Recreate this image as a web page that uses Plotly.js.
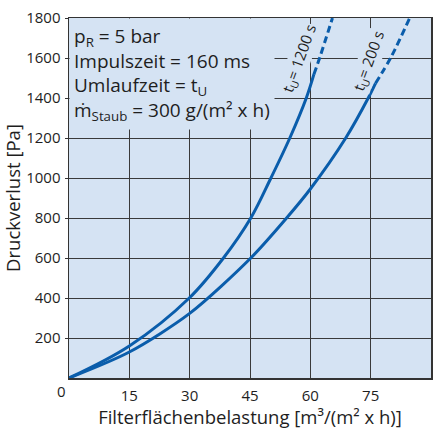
<!DOCTYPE html>
<html>
<head>
<meta charset="utf-8">
<script src="https://cdn.plot.ly/plotly-3.0.1.min.js"></script>
<style>html,body{margin:0;padding:0;background:#fff;}#chart{width:436px;height:430px;}</style>
</head>
<body>
<div id="chart"></div>
<script>
// tU = 1200 s (solid part and dashed extrapolation)
const x1200 = [0, 15, 29.9, 38.4, 45.2, 50.2, 54.9, 59.0, 60.9];
const y1200 = [0, 160, 400, 600, 800, 1000, 1200, 1400, 1519];
const x1200d = [60.9, 62.4, 65.5];
const y1200d = [1519, 1606, 1800];
// tU = 200 s
const x200 = [0, 15, 30, 45.2, 54.1, 60, 68.8, 74.4, 76.2];
const y200 = [0, 130, 323, 600, 800, 945, 1200, 1400, 1473];
const x200d = [76.2, 80.1, 84.7];
const y200d = [1473, 1606, 1800];

const xTicks = [15, 30, 45, 60, 75, 90];
const yTicks = [200, 400, 600, 800, 1000, 1200, 1400, 1600, 1800];

const blue = '#0a5dab';
const bg = '#d5e3f3';
const font = 'Open Sans, Noto Sans, sans-serif';
const ink = '#1e1e1e';

const traces = [
  {x: x1200, y: y1200, mode: 'lines', line: {color: blue, width: 3, shape: 'spline', smoothing: 1}, hoverinfo: 'skip'},
  {x: x1200d, y: y1200d, mode: 'lines', line: {color: blue, width: 3, dash: '7px,4px', shape: 'spline'}, hoverinfo: 'skip'},
  {x: x200, y: y200, mode: 'lines', line: {color: blue, width: 3, shape: 'spline', smoothing: 0.8}, hoverinfo: 'skip'},
  {x: x200d, y: y200d, mode: 'lines', line: {color: blue, width: 3, dash: '7px,4px', shape: 'spline'}, hoverinfo: 'skip'}
];

const layout = {
  width: 436, height: 430,
  margin: {l: 69, r: 5, t: 18, b: 52},
  paper_bgcolor: '#ffffff',
  plot_bgcolor: bg,
  showlegend: false,
  font: {family: font, size: 15, color: ink},
  xaxis: {
    range: [0, 90], tickvals: xTicks, ticktext: xTicks.map(String),
    showgrid: true, gridcolor: '#3a3a3a', gridwidth: 1, zeroline: false,
    showline: true, linecolor: '#333', linewidth: 1.5, mirror: true,
    ticks: '', ticklabelstandoff: 3,
    tickfont: {family: font, size: 15, color: ink},
    title: {text: 'Filterflächenbelastung [m³/(m² x h)]', font: {family: font, size: 18.5, color: ink}, standoff: 6}
  },
  yaxis: {
    range: [0, 1800], tickvals: yTicks, ticktext: yTicks.map(String),
    showgrid: true, gridcolor: '#3a3a3a', gridwidth: 1, zeroline: false,
    showline: true, linecolor: '#333', linewidth: 1.5, mirror: true,
    ticks: 'outside', ticklen: 3, tickcolor: '#333', ticklabelstandoff: 1,
    tickfont: {family: font, size: 15, color: ink},
    title: {text: 'Druckverlust [Pa]', font: {family: font, size: 18.5, color: ink}, standoff: 2}
  },
  annotations: [
    {xref: 'paper', yref: 'paper', x: 0, y: 1, xanchor: 'left', yanchor: 'top', align: 'left',
     text: 'p<sub>R</sub> = 5 bar<br>Impulszeit = 160 ms<br>Umlaufzeit = t<sub>U</sub><br>ṁ<sub>Staub</sub> = 300 g/(m² x h)',
     showarrow: false, bgcolor: bg, borderpad: 4, font: {family: font, size: 19, color: ink}},
    {xref: 'x', yref: 'y', x: 57.4, y: 1600, text: 't<sub>U</sub>= 1200 s', textangle: -70, showarrow: false,
     bgcolor: bg, borderpad: 0, font: {family: font, size: 15, color: ink}},
    {xref: 'x', yref: 'y', x: 74.6, y: 1585, text: 't<sub>U</sub>= 200 s', textangle: -70, showarrow: false,
     bgcolor: bg, borderpad: 0, font: {family: font, size: 15, color: ink}},
    {xref: 'paper', yref: 'paper', x: -0.022, y: 0, yshift: -13, xanchor: 'center', yanchor: 'middle', text: '0', showarrow: false,
     font: {family: font, size: 15, color: ink}}
  ]
};

Plotly.newPlot('chart', traces, layout, {staticPlot: true, displayModeBar: false});
</script>
</body>
</html>
